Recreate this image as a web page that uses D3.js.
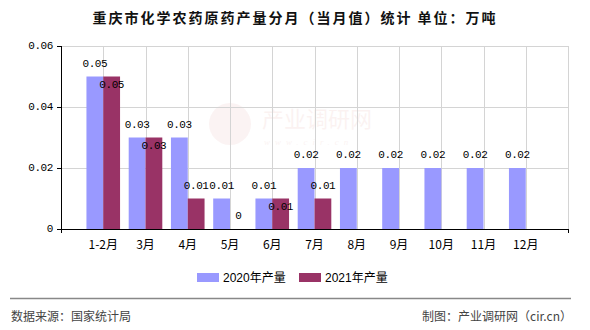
<!DOCTYPE html>
<html>
<head>
<meta charset="utf-8">
<script src="https://cdn.jsdelivr.net/npm/d3@7/dist/d3.min.js"></script>
<style>
  html, body { margin: 0; padding: 0; background: #fff; }
  svg { display: block; }
</style>
</head>
<body>
<svg id="chart" width="590" height="330"></svg>
<script>
// Monthly output of chemical pesticide technical in Chongqing (10k tonnes)
const categories = ["1-2月", "3月", "4月", "5月", "6月", "7月", "8月", "9月", "10月", "11月", "12月"];
const values2020 = [0.05, 0.03, 0.03, 0.01, 0.01, 0.02, 0.02, 0.02, 0.02, 0.02, 0.02];
const values2021 = [0.05, 0.03, 0.01, 0, 0.01, 0.01, null, null, null, null, null];
const seriesNames = ["2020年产量", "2021年产量"];
const yTicks = [0, 0.02, 0.04, 0.06];

const colors = ["#9999FF", "#993366"];
const cjk = "'Noto Sans CJK SC', 'Noto Sans', sans-serif";
const mono = "'Liberation Mono', 'DejaVu Sans Mono', monospace";

const svg = d3.select("#chart");
const plotLeft = 61, plotRight = 568, plotTop = 46, plotBottom = 229;

const x = d3.scalePoint().domain(categories).range([plotLeft, plotRight]).padding(1);
const y = d3.scaleLinear().domain([0, 0.06]).range([plotBottom, plotTop]);
const barW = 16.8;

// title
svg.append("text")
  .attr("x", 295).attr("y", 17)
  .attr("text-anchor", "middle").attr("dominant-baseline", "central")
  .style("font-family", cjk).style("font-size", "14px").style("font-weight", "bold")
  .style("letter-spacing", "2px").style("fill", "#111")
  .text("重庆市化学农药原药产量分月（当月值）统计 单位：万吨");

// faint watermark
const wm = svg.append("g").style("opacity", 0.06);
wm.append("circle").attr("cx", 230).attr("cy", 124).attr("r", 21).attr("fill", "#c0392b");
wm.append("text").attr("x", 262).attr("y", 117).attr("dominant-baseline", "central")
  .style("font-family", cjk).style("font-size", "22px").style("fill", "#c0392b")
  .text("产业调研网");
wm.append("text").attr("x", 264).attr("y", 142).attr("dominant-baseline", "central")
  .style("font-family", "serif").style("font-size", "9px").style("letter-spacing", "5px")
  .style("font-style", "italic").style("fill", "#c0392b")
  .text("www.cir.cn");

// grid
const grid = svg.append("g").attr("stroke", "#d4d4d4").attr("stroke-width", 1);
yTicks.filter(t => t > 0).forEach(t => {
  grid.append("line").attr("x1", plotLeft).attr("x2", plotRight)
    .attr("y1", Math.round(y(t)) + 0.5).attr("y2", Math.round(y(t)) + 0.5);
});
categories.forEach(c => {
  grid.append("line").attr("x1", Math.round(x(c)) + 0.5).attr("x2", Math.round(x(c)) + 0.5)
    .attr("y1", plotTop).attr("y2", plotBottom);
});
grid.append("line").attr("x1", plotRight + 0.5).attr("x2", plotRight + 0.5).attr("y1", plotTop).attr("y2", plotBottom);

// bars
const g2020 = svg.append("g").attr("fill", colors[0]);
g2020.selectAll("rect").data(categories).join("rect")
  .attr("x", (d) => x(d) - barW)
  .attr("width", barW)
  .attr("y", (d, i) => y(values2020[i]))
  .attr("height", (d, i) => y(0) - y(values2020[i]));

const g2021 = svg.append("g").attr("fill", colors[1]);
g2021.selectAll("rect").data(categories.filter((d, i) => values2021[i] !== null)).join("rect")
  .attr("x", (d) => x(d))
  .attr("width", barW)
  .attr("y", (d) => y(values2021[categories.indexOf(d)]))
  .attr("height", (d) => y(0) - y(values2021[categories.indexOf(d)]));

// value labels
const fmt = v => v === 0 ? "0" : d3.format(".2f")(v);
const labels = svg.append("g")
  .style("font-family", mono).style("font-size", "11px").style("letter-spacing", "-0.4px")
  .style("fill", "#000").attr("text-anchor", "middle").attr("dominant-baseline", "central");
categories.forEach((c, i) => {
  labels.append("text").attr("x", x(c) - barW / 2).attr("y", y(values2020[i]) - 13).text(fmt(values2020[i]));
  const v = values2021[i];
  if (v !== null) {
    const inside = v === values2020[i];
    labels.append("text").attr("x", x(c) + barW / 2)
      .attr("y", inside ? y(v) + 8 : y(v) - 13).text(fmt(v));
  }
});

// axes
const axisG = svg.append("g").attr("stroke", "#000").attr("stroke-width", 1);
axisG.append("line").attr("x1", plotLeft + 0.5).attr("x2", plotLeft + 0.5).attr("y1", plotTop).attr("y2", plotBottom + 0.5);
axisG.append("line").attr("x1", plotLeft).attr("x2", plotRight + 1).attr("y1", plotBottom + 0.5).attr("y2", plotBottom + 0.5);
yTicks.forEach(t => {
  axisG.append("line").attr("x1", plotLeft - 4).attr("x2", plotLeft)
    .attr("y1", Math.round(y(t)) + 0.5).attr("y2", Math.round(y(t)) + 0.5);
});
[plotLeft + 0.5, plotRight + 0.5].forEach(px => {
  axisG.append("line").attr("x1", px).attr("x2", px).attr("y1", plotBottom).attr("y2", plotBottom + 4);
});

svg.append("g")
  .style("font-family", mono).style("font-size", "11px").style("letter-spacing", "-0.4px")
  .attr("text-anchor", "end").attr("dominant-baseline", "central")
  .selectAll("text").data(yTicks).join("text")
  .attr("x", 53).attr("y", d => y(d))
  .text(d => d === 0 ? "0" : d3.format(".2f")(d));

svg.append("g")
  .style("font-family", cjk).style("font-size", "12px")
  .attr("text-anchor", "middle").attr("dominant-baseline", "central")
  .selectAll("text").data(categories).join("text")
  .attr("x", d => x(d)).attr("y", 243)
  .text(d => d);

// legend
const legend = svg.append("g");
const legendX = [197, 299];
seriesNames.forEach((name, i) => {
  legend.append("rect").attr("x", legendX[i]).attr("y", 273).attr("width", 22).attr("height", 9).attr("fill", colors[i]);
  legend.append("text").attr("x", legendX[i] + 26).attr("y", 278)
    .attr("dominant-baseline", "central")
    .style("font-family", "'Liberation Sans', Arial, " + cjk).style("font-size", "12px").style("fill", "#000")
    .text(name);
});

// footer
svg.append("line").attr("x1", 10).attr("x2", 571).attr("y1", 298.5).attr("y2", 298.5)
  .attr("stroke", "#888").attr("stroke-width", 1.5);
svg.append("text").attr("x", 11).attr("y", 315).attr("dominant-baseline", "central")
  .style("font-family", cjk).style("font-size", "12px").style("fill", "#444")
  .text("数据来源：国家统计局");
svg.append("text").attr("x", 572).attr("y", 315).attr("dominant-baseline", "central")
  .attr("text-anchor", "end")
  .style("font-family", cjk).style("font-size", "12px").style("fill", "#444")
  .text("制图：产业调研网（cir.cn）");
</script>
</body>
</html>
